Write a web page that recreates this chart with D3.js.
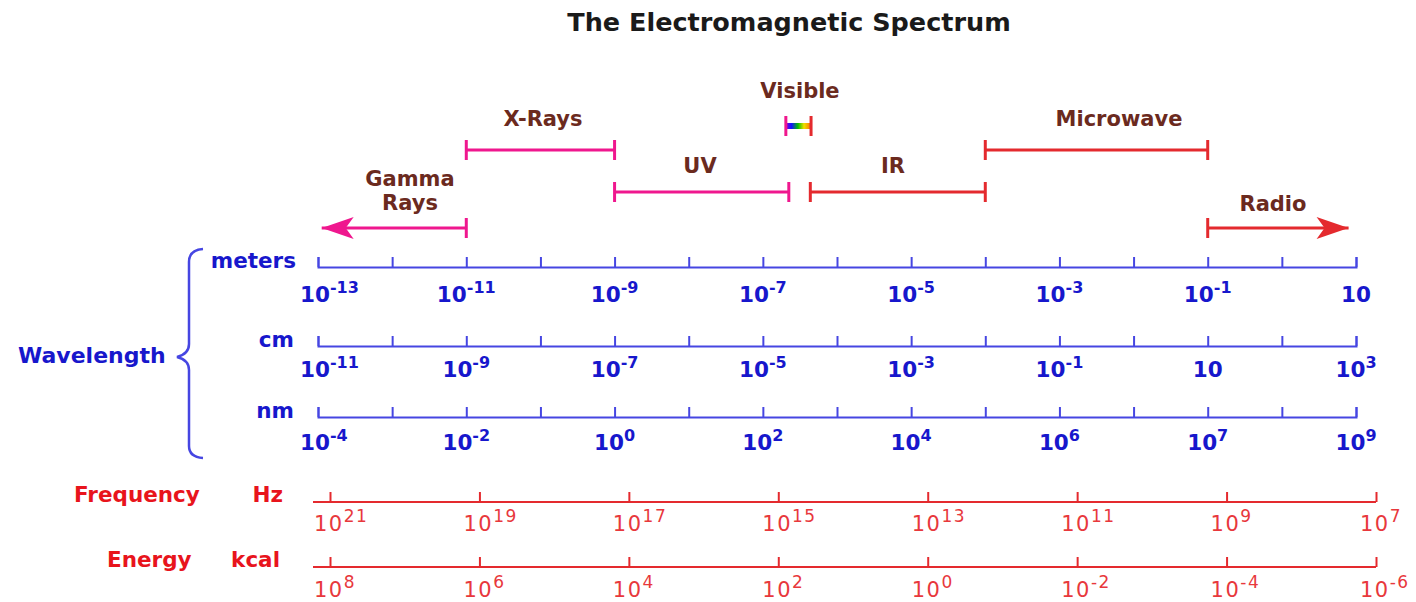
<!DOCTYPE html>
<html>
<head>
<meta charset="utf-8">
<script src="https://cdn.jsdelivr.net/npm/d3@7"></script>
<style>
  body { margin: 0; background: #fff; }
  svg { display: block; }
  text { font-family: "DejaVu Sans", Verdana, sans-serif; }
</style>
</head>
<body>
<div class="chart"></div>
<script>
// bands of the spectrum, start / end as log10 of wavelength in meters
var bandNames = ["Gamma Rays", "X-Rays", "UV", "Visible", "IR", "Microwave", "Radio"];
var bandStart = [-12.95, -11, -9, -6.69, -6.36, -4, -1];
var bandEnd = [-11, -9, -6.65, -6.35, -4, -1, 0.9];
var bandRow = [3, 1, 2, 0, 2, 1, 3];

// wavelength axes: labelled tick positions (log10 m) and the labels shown on each row
var meterTicks = [-13, -11, -9, -7, -5, -3, -1, 1];
var meterExp = [-13, -11, -9, -7, -5, -3, -1, 1];
var cmExp = [-11, -9, -7, -5, -3, -1, 1, 3];
var nmExp = [-4, -2, 0, 2, 4, 6, 7, 9];

// frequency / energy axes
var freqExp = [21, 19, 17, 15, 13, 11, 9, 7];
var energyExp = [8, 6, 4, 2, 0, -2, -4, -6];

var svgWidth = 1416;
var svgHeight = 602;

var blueLine = "#4646e2", blueText = "#1717cc";
var redLine = "#e42a2e", redText = "#e8141c", redTick = "#e8383c";
var pink = "#ef178e", brown = "#6b2a1e";

var svg = d3.select(".chart").append("svg")
  .attr("width", svgWidth)
  .attr("height", svgHeight);

var defs = svg.append("defs");
var grad = defs.append("linearGradient").attr("id", "rainbow");
[["0%", "#8a00d8"], ["22%", "#1010ff"], ["48%", "#00c000"], ["72%", "#f0e000"], ["100%", "#ff7000"]]
  .forEach(function (s) { grad.append("stop").attr("offset", s[0]).attr("stop-color", s[1]); });

// title
svg.append("text")
  .attr("x", 789).attr("y", 31)
  .attr("text-anchor", "middle")
  .attr("font-size", 25.5).attr("font-weight", "bold")
  .attr("fill", "#1a1a1a")
  .text("The Electromagnetic Spectrum");

// wavelength scale (log10 meters)
var xWave = d3.scaleLinear().domain([-13, 1]).range([318, 1356]);
var rowY = [126, 150, 192, 228];

// band bars
var bandColor = function (i) { return bandStart[i] >= -6.4 ? redLine : pink; };
var bands = svg.append("g");
bandNames.forEach(function (name, i) {
  var x0 = xWave(bandStart[i]), x1 = xWave(bandEnd[i]), y = rowY[bandRow[i]];
  var g = bands.append("g");
  var col = bandColor(i);
  if (name === "Visible") {
    g.append("rect").attr("x", x0).attr("y", y - 3).attr("width", x1 - x0).attr("height", 6)
      .attr("fill", "url(#rainbow)");
    g.append("line").attr("x1", x0).attr("x2", x0).attr("y1", y - 10).attr("y2", y + 10)
      .attr("stroke", pink).attr("stroke-width", 3);
    g.append("line").attr("x1", x1).attr("x2", x1).attr("y1", y - 10).attr("y2", y + 10)
      .attr("stroke", redLine).attr("stroke-width", 3);
    return;
  }
  g.append("line").attr("x1", x0).attr("x2", x1).attr("y1", y).attr("y2", y)
    .attr("stroke", col).attr("stroke-width", 3);
  if (name === "Gamma Rays") {
    g.append("line").attr("x1", x1).attr("x2", x1).attr("y1", y - 10).attr("y2", y + 10)
      .attr("stroke", col).attr("stroke-width", 3);
    g.append("path")
      .attr("d", `M${x0},${y} L${x0 + 32},${y - 11} L${x0 + 24},${y} L${x0 + 32},${y + 11} Z`)
      .attr("fill", col);
  } else if (name === "Radio") {
    g.append("line").attr("x1", x0).attr("x2", x0).attr("y1", y - 10).attr("y2", y + 10)
      .attr("stroke", col).attr("stroke-width", 3);
    g.append("path")
      .attr("d", `M${x1},${y} L${x1 - 32},${y - 11} L${x1 - 24},${y} L${x1 - 32},${y + 11} Z`)
      .attr("fill", col);
  } else {
    [x0, x1].forEach(function (x) {
      g.append("line").attr("x1", x).attr("x2", x).attr("y1", y - 10).attr("y2", y + 10)
        .attr("stroke", col).attr("stroke-width", 3);
    });
  }
});

// band labels
var labelPos = {
  "Gamma Rays": [410, 186], "X-Rays": [543, 126], "UV": [700, 173], "Visible": [800, 98],
  "IR": [893, 173], "Microwave": [1119, 126], "Radio": [1273, 211]
};
bandNames.forEach(function (name) {
  var p = labelPos[name];
  var t = svg.append("text")
    .attr("x", p[0]).attr("y", p[1])
    .attr("text-anchor", "middle")
    .attr("font-size", 21).attr("font-weight", "bold")
    .attr("fill", brown);
  if (name === "Gamma Rays") {
    t.append("tspan").attr("x", p[0]).text("Gamma");
    t.append("tspan").attr("x", p[0]).attr("dy", 24).text("Rays");
  } else {
    t.text(name);
  }
});

// helper: "10" with superscript exponent
function powerLabel(sel, exp, opts) {
  var t = sel.append("text")
    .attr("font-size", opts.size)
    .attr("font-weight", opts.weight)
    .attr("fill", opts.color)
    .attr("letter-spacing", opts.spacing || 0);
  t.append("tspan").text("10");
  if (!(opts.hideOne && exp === 1)) {
    t.append("tspan")
      .attr("font-size", opts.supSize)
      .attr("dy", -9)
      .text(exp < 0 ? "-" + Math.abs(exp) : String(exp));
  }
  return t;
}

// wavelength axes
var waveRows = [
  { unit: "meters", y: 267, labels: meterExp, labelY: 302, unitX: 296 },
  { unit: "cm", y: 346, labels: cmExp, labelY: 377, unitX: 294 },
  { unit: "nm", y: 417, labels: nmExp, labelY: 450, unitX: 294 }
];

waveRows.forEach(function (row) {
  var axis = d3.axisTop(xWave)
    .tickValues(d3.range(-13, 2))
    .tickSizeInner(10)
    .tickSizeOuter(10)
    .tickFormat("");
  var ax = svg.append("g")
    .attr("transform", `translate(0, ${row.y})`)
    .call(axis);
  ax.selectAll("path, line").attr("stroke", blueLine).attr("stroke-width", 2);

  svg.append("text")
    .attr("x", row.unitX).attr("y", row.y + 1)
    .attr("text-anchor", "end")
    .attr("font-size", 21.5).attr("font-weight", "bold")
    .attr("fill", blueText)
    .text(row.unit);

  row.labels.forEach(function (exp, i) {
    var t = powerLabel(svg, exp, { size: 21.5, supSize: 16, weight: "bold", color: blueText, hideOne: true });
    var x = xWave(meterTicks[i]);
    if (i === 0) {
      t.attr("x", x - 18).attr("y", row.labelY).attr("text-anchor", "start");
    } else {
      t.attr("x", x).attr("y", row.labelY).attr("text-anchor", "middle");
    }
  });
});

// brace and Wavelength label
svg.append("path")
  .attr("d", "M203,249 Q189,250 189,262 L189,344 Q189,354 177,357 Q189,360 189,370 L189,446 Q189,457 203,458")
  .attr("fill", "none")
  .attr("stroke", blueLine)
  .attr("stroke-width", 2.5);

svg.append("text")
  .attr("x", 18).attr("y", 363)
  .attr("font-size", 22).attr("font-weight", "bold")
  .attr("fill", blueText)
  .text("Wavelength");

// frequency / energy axes
var xFreq = d3.scaleLinear().domain([0, 7]).range([330, 1376]);
var redRows = [
  { name: "Frequency", nameX: 74, unit: "Hz", unitX: 283, y: 502, labels: freqExp, labelY: 531 },
  { name: "Energy", nameX: 107, unit: "kcal", unitX: 280, y: 567, labels: energyExp, labelY: 597 }
];

redRows.forEach(function (row) {
  var axis = d3.axisTop(xFreq)
    .tickValues(d3.range(0, 8))
    .tickSizeInner(10)
    .tickSizeOuter(0)
    .tickFormat("");
  var ax = svg.append("g")
    .attr("transform", `translate(0, ${row.y})`)
    .call(axis);
  ax.select(".domain").attr("d", `M313,0H${xFreq(7)}`);
  ax.selectAll("path, line").attr("stroke", redLine).attr("stroke-width", 2);

  svg.append("text")
    .attr("x", row.nameX).attr("y", row.y)
    .attr("font-size", 21.5).attr("font-weight", "bold")
    .attr("fill", redText)
    .text(row.name);
  svg.append("text")
    .attr("x", row.unitX).attr("y", row.y)
    .attr("text-anchor", "end")
    .attr("font-size", 21.5).attr("font-weight", "bold")
    .attr("fill", redText)
    .text(row.unit);

  row.labels.forEach(function (exp, i) {
    powerLabel(svg, exp, { size: 21, supSize: 17, weight: "normal", color: redTick, spacing: 1.5 })
      .attr("x", xFreq(i) - 16)
      .attr("y", row.labelY);
  });
});
</script>
</body>
</html>
